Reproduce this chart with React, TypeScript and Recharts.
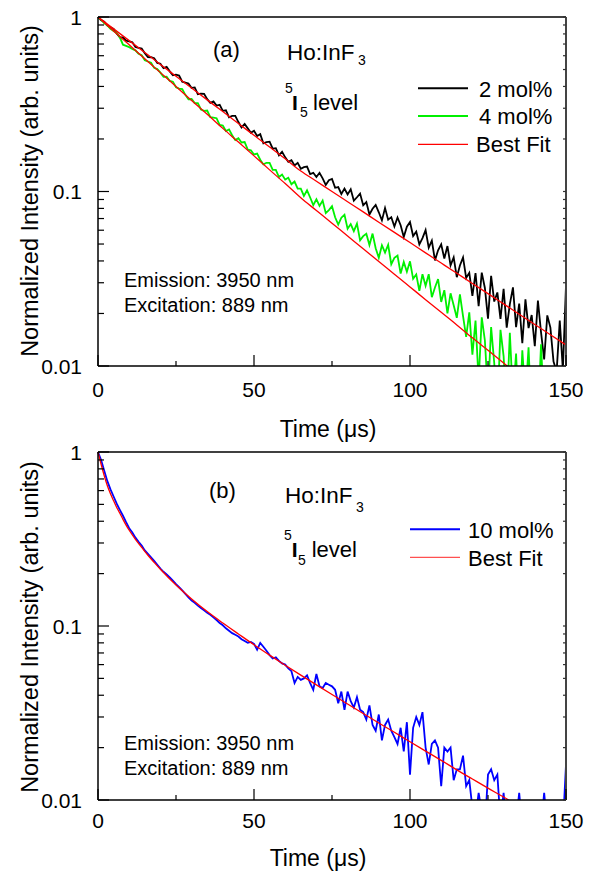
import React from 'react';
import { LineChart, Line, XAxis, YAxis } from 'recharts';

const FONT = '"Liberation Sans", Arial, Helvetica, sans-serif';

// time base of the measured traces, 1 μs per sample
const timeUs = Array.from({ length: 151 }, (_, i) => i);

// (a) 2 mol% trace
const mol2 = [
  1.0, 0.959, 0.939, 0.893, 0.874, 0.855, 0.804, 0.764, 0.763, 0.732,
  0.725, 0.716, 0.673, 0.666, 0.659, 0.62, 0.589, 0.588, 0.581, 0.546,
  0.54, 0.509, 0.518, 0.488, 0.464, 0.467, 0.462, 0.426, 0.421, 0.416,
  0.392, 0.395, 0.361, 0.364, 0.363, 0.338, 0.322, 0.328, 0.311, 0.314,
  0.29, 0.292, 0.266, 0.271, 0.271, 0.25, 0.233, 0.244, 0.23, 0.217,
  0.223, 0.208, 0.213, 0.189, 0.192, 0.193, 0.176, 0.177, 0.161, 0.169,
  0.157, 0.148, 0.151, 0.141, 0.146, 0.135, 0.138, 0.139, 0.126, 0.128,
  0.121, 0.128, 0.119, 0.109, 0.116, 0.118, 0.105, 0.106, 0.0968, 0.104,
  0.0961, 0.103, 0.0886, 0.0927, 0.0973, 0.0833, 0.0869, 0.0738, 0.0796, 0.0837,
  0.076, 0.0683, 0.0803, 0.069, 0.0713, 0.063, 0.071, 0.0641, 0.0549, 0.0629,
  0.0668, 0.0556, 0.0589, 0.0498, 0.054, 0.0601, 0.0477, 0.0523, 0.0403, 0.046,
  0.0498, 0.0413, 0.0487, 0.0377, 0.0419, 0.0323, 0.0377, 0.0419, 0.032, 0.0342,
  0.0252, 0.0341, 0.022, 0.0343, 0.028, 0.0187, 0.0329, 0.0234, 0.0264, 0.0186,
  0.0277, 0.0166, 0.0226, 0.0282, 0.0167, 0.0228, 0.0135, 0.0241, 0.0165, 0.0196,
  0.013, 0.0237, 0.0156, 0.0109, 0.0195, 0.0166, 0.0106, 0.0093, 0.0182, 0.0095,
  0.029,
];

// (a) 4 mol% trace
const mol4 = [
  1.0, 0.964, 0.92, 0.896, 0.855, 0.832, 0.81, 0.765, 0.694, 0.683,
  0.672, 0.655, 0.644, 0.615, 0.604, 0.565, 0.556, 0.547, 0.511, 0.503,
  0.48, 0.454, 0.455, 0.43, 0.426, 0.396, 0.389, 0.386, 0.358, 0.338,
  0.339, 0.321, 0.321, 0.295, 0.29, 0.291, 0.267, 0.265, 0.263, 0.241,
  0.239, 0.222, 0.227, 0.21, 0.197, 0.202, 0.191, 0.192, 0.174, 0.172,
  0.163, 0.165, 0.152, 0.143, 0.146, 0.146, 0.133, 0.133, 0.121, 0.125,
  0.117, 0.12, 0.11, 0.114, 0.104, 0.104, 0.0943, 0.1015, 0.0924, 0.0836,
  0.0902, 0.0827, 0.0887, 0.0752, 0.0782, 0.0823, 0.0712, 0.0646, 0.0708, 0.0736,
  0.0612, 0.0651, 0.0593, 0.0654, 0.0525, 0.0555, 0.0573, 0.0493, 0.0574, 0.0473,
  0.0417, 0.0492, 0.0446, 0.0495, 0.0383, 0.0417, 0.0429, 0.0339, 0.0395, 0.0347,
  0.0398, 0.0316, 0.0335, 0.027, 0.0336, 0.0288, 0.0336, 0.0248, 0.0282, 0.0315,
  0.0233, 0.0272, 0.02, 0.0261, 0.0223, 0.0189, 0.0257, 0.0193, 0.0147, 0.0203,
  0.0116, 0.0182, 0.0082, 0.019, 0.014, 0.0068, 0.0167, 0.0104, 0.0056, 0.0161,
  0.0114, 0.0055, 0.0155, 0.0066, 0.0118, 0.0044, 0.0123, 0.0066, 0.0128, 0.0047,
  0.009, 0.0051, 0.0133, 0.0054, 0.004, 0.0095, 0.0043, 0.0077, 0.0034, 0.0055,
  0.0042,
];

// (a) best fits
const fitTimeA = [0, 5, 10, 15, 20, 25, 30, 35, 40, 45, 50, 55, 60, 65, 70, 75, 80, 85, 90, 95, 100, 105, 110, 115, 120, 125, 130, 135, 140, 145, 150];
const fit2 = [1, 0.855, 0.732, 0.626, 0.535, 0.458, 0.392, 0.335, 0.287, 0.245, 0.21, 0.18, 0.154, 0.131, 0.1145, 0.1, 0.0874, 0.0764, 0.0667, 0.0583, 0.051, 0.0445, 0.0389, 0.034, 0.0297, 0.026, 0.0227, 0.0198, 0.0173, 0.0151, 0.0132];
const fit4 = [1, 0.832, 0.693, 0.577, 0.48, 0.4, 0.332, 0.277, 0.23, 0.192, 0.16, 0.133, 0.111, 0.092, 0.0778, 0.0658, 0.0556, 0.047, 0.0397, 0.0336, 0.0284, 0.024, 0.0203, 0.0172, 0.0145, 0.0123, 0.0104, 0.0088, 0.0075, 0.0063, 0.0053];

// (b) 10 mol% trace
const mol10 = [
  1.0, 0.9, 0.78, 0.68, 0.61, 0.555, 0.505, 0.465, 0.43, 0.395,
  0.365, 0.345, 0.322, 0.305, 0.29, 0.272, 0.26, 0.248, 0.237, 0.225,
  0.214, 0.205, 0.198, 0.19, 0.182, 0.174, 0.167, 0.16, 0.153, 0.146,
  0.14, 0.136, 0.131, 0.127, 0.123, 0.119, 0.116, 0.112, 0.108, 0.104,
  0.101, 0.097, 0.094, 0.091, 0.089, 0.087, 0.084, 0.082, 0.08, 0.081,
  0.079, 0.073, 0.08, 0.076, 0.072, 0.068, 0.065, 0.066, 0.063, 0.061,
  0.06, 0.057, 0.055, 0.047, 0.051, 0.049, 0.05, 0.052, 0.047, 0.043,
  0.053, 0.045, 0.044, 0.047, 0.046, 0.045, 0.043, 0.036, 0.042, 0.033,
  0.042, 0.037, 0.034, 0.039, 0.033, 0.032, 0.029, 0.035, 0.027, 0.025,
  0.031, 0.022, 0.027, 0.029, 0.025, 0.023, 0.021, 0.026, 0.019, 0.028,
  0.014, 0.026, 0.03, 0.027, 0.032, 0.02, 0.016, 0.021, 0.022, 0.02,
  0.012, 0.02, 0.019, 0.02, 0.013, 0.015, 0.015, 0.018, 0.012, 0.013,
  0.009, 0.008, 0.011, 0.0085, 0.007, 0.014, 0.015, 0.013, 0.014, 0.0075,
  0.011, 0.007, 0.009, 0.008, 0.0075, 0.011, 0.007, 0.008, 0.008, 0.007,
  0.008, 0.009, 0.007, 0.011, 0.007, 0.006, 0.008, 0.007, 0.006, 0.007,
  0.016,
];

// (b) best fit
const fitTimeB = [0, 1, 2, 3, 4, 5, 6, 7, 8, 9, 10, 12, 14, 16, 18, 20, 25, 30, 35, 40, 45, 50, 55, 60, 65, 70, 75, 80, 85, 90, 95, 100, 105, 110, 115, 120, 125, 130, 135, 140];
const fit10 = [1, 0.85, 0.73, 0.64, 0.575, 0.525, 0.48, 0.445, 0.41, 0.38, 0.355, 0.315, 0.283, 0.255, 0.232, 0.212, 0.172, 0.143, 0.121, 0.104, 0.09, 0.078, 0.068, 0.0595, 0.0522, 0.0459, 0.0404, 0.0356, 0.0314, 0.0277, 0.0245, 0.0216, 0.0191, 0.0169, 0.0149, 0.0132, 0.0117, 0.0104, 0.0092, 0.0082];

const xTicks = [0, 25, 50, 75, 100, 125, 150];
const xLabelled = [0, 50, 100, 150];
const yTicks = [
  0.01, 0.02, 0.03, 0.04, 0.05, 0.06, 0.07, 0.08, 0.09,
  0.1, 0.2, 0.3, 0.4, 0.5, 0.6, 0.7, 0.8, 0.9, 1,
];
const yMajor = [0.01, 0.1, 1];

const GREEN = '#00f000';
const BLUE = '#0000ff';
const RED = '#ff0000';

const rows = (t: number[], v: number[]) => t.map((x, i) => ({ t: x, v: v[i] }));

// tick marks point into the plot, as in the original figure; drawn as thin rects
const LeftTick = ({ x, y, payload }: any) => {
  const major = yMajor.includes(payload.value);
  const len = major ? 11 : 6;
  return (
    <g>
      <rect x={x} y={y - 0.6} width={len} height={1.2} fill="#000" />
      {major && (
        <text x={x - 16} y={y + 7.5} textAnchor="end" fontSize={21} fontFamily={FONT} fill="#000">
          {String(payload.value)}
        </text>
      )}
    </g>
  );
};

const RightTick = ({ x, y }: any) => <rect x={x - 3} y={y - 0.6} width={3} height={1.2} fill="#333" />;

const TopTick = ({ x, y }: any) => <rect x={x - 0.6} y={y} width={1.2} height={3} fill="#333" />;

const makeBottomTick = (labelDy: number) => ({ x, y, payload }: any) => {
  const v = payload.value;
  const len = v % 50 === 0 ? 11 : 5;
  return (
    <g>
      <rect x={x - 0.6} y={y - len} width={1.2} height={len} fill="#000" />
      {xLabelled.includes(v) && (
        <text x={x} y={y + labelDy} textAnchor="middle" fontSize={21} fontFamily={FONT} fill="#000">
          {v}
        </text>
      )}
    </g>
  );
};

const frame = { stroke: '#000', strokeWidth: 1.5 };
const logY = { type: 'number' as const, scale: 'log' as const, domain: [0.01, 1], allowDataOverflow: true, interval: 0 as const };
const linX = { type: 'number' as const, dataKey: 't', domain: [0, 150], interval: 0 as const };

function Panel({ top, bottomH, labelDy, children }: any) {
  return (
    <LineChart width={594} height={437} margin={{ top: top - 1, right: 27, bottom: 0, left: 0 }}>
      <XAxis xAxisId="b" {...linX} ticks={xTicks} height={bottomH} tickSize={0} tickMargin={0}
        tickLine={false} axisLine={frame} tick={makeBottomTick(labelDy)} />
      <XAxis xAxisId="top" orientation="top" {...linX} ticks={xTicks} height={1} tickSize={0} tickMargin={0}
        tickLine={false} axisLine={frame} tick={TopTick} />
      <YAxis yAxisId="l" {...logY} ticks={yTicks} width={98} tickSize={0} tickMargin={0}
        tickLine={false} axisLine={frame} tick={LeftTick} />
      <YAxis yAxisId="r" orientation="right" {...logY} ticks={yTicks} width={1} tickSize={0} tickMargin={0}
        tickLine={false} axisLine={{ stroke: '#444', strokeWidth: 2 }} tick={RightTick} />
      {children}
    </LineChart>
  );
}

const txt = { fontFamily: FONT, fill: '#000' } as const;

export default function App() {
  return (
    <div style={{ position: 'absolute', left: 0, top: 0, width: 594, height: 874, background: '#fff' }}>
      <Panel top={17} bottomH={71} labelDy={31}>
        <Line xAxisId="b" yAxisId="l" data={rows(timeUs, mol2)} dataKey="v" stroke="#000" strokeWidth={1.8}
          dot={false} isAnimationActive={false} />
        <Line xAxisId="b" yAxisId="l" data={rows(timeUs, mol4)} dataKey="v" stroke={GREEN} strokeWidth={1.8}
          dot={false} isAnimationActive={false} />
        <Line xAxisId="b" yAxisId="l" data={rows(fitTimeA, fit2)} dataKey="v" type="monotone" stroke={RED}
          strokeWidth={1.3} dot={false} isAnimationActive={false} />
        <Line xAxisId="b" yAxisId="l" data={rows(fitTimeA, fit4)} dataKey="v" type="monotone" stroke={RED}
          strokeWidth={1.3} dot={false} isAnimationActive={false} />
      </Panel>
      <Panel top={15} bottomH={74} labelDy={28}>
        <Line xAxisId="b" yAxisId="l" data={rows(timeUs, mol10)} dataKey="v" stroke={BLUE} strokeWidth={1.8}
          dot={false} isAnimationActive={false} />
        <Line xAxisId="b" yAxisId="l" data={rows(fitTimeB, fit10)} dataKey="v" type="monotone" stroke={RED}
          strokeWidth={1.3} dot={false} isAnimationActive={false} />
      </Panel>

      <svg width={594} height={874} style={{ position: 'absolute', left: 0, top: 0, pointerEvents: 'none' }}>
        {/* axis titles */}
        <text {...txt} fontSize={23.5} textAnchor="middle" transform="translate(38,191) rotate(-90)">
          Normalized Intensity (arb. units)
        </text>
        <text {...txt} fontSize={23.5} textAnchor="middle" transform="translate(38,627) rotate(-90)">
          Normalized Intensity (arb. units)
        </text>
        <text {...txt} fontSize={23} textAnchor="middle" x={328} y={437}>Time (μs)</text>
        <text {...txt} fontSize={23} textAnchor="middle" x={318} y={866}>Time (μs)</text>

        {/* panel (a) notes */}
        <text {...txt} fontSize={22} x={213} y={57}>(a)</text>
        <text {...txt} fontSize={22.5} x={287} y={59.5}>Ho:InF</text>
        <text {...txt} fontSize={14} x={358} y={65}>3</text>
        <text {...txt} fontSize={14} x={285} y={93}>5</text>
        <text {...txt} fontSize={21} fontWeight="bold" x={292} y={110}>I</text>
        <text {...txt} fontSize={14} x={300} y={117}>5</text>
        <text {...txt} fontSize={22} x={313} y={110}>level</text>
        <text {...txt} fontSize={20} x={124} y={287}>Emission: 3950 nm</text>
        <text {...txt} fontSize={20} x={124} y={311.5}>Excitation: 889 nm</text>

        <line x1={418} x2={468} y1={88.3} y2={88.3} stroke="#000" strokeWidth={2} />
        <line x1={418} x2={468} y1={116} y2={116} stroke={GREEN} strokeWidth={2} />
        <line x1={418} x2={468} y1={144.3} y2={144.3} stroke={RED} strokeWidth={1.3} />
        <text {...txt} fontSize={22} x={479} y={96.5}>2 mol%</text>
        <text {...txt} fontSize={22} x={479} y={124}>4 mol%</text>
        <text {...txt} fontSize={22} x={476} y={152.3}>Best Fit</text>

        {/* panel (b) notes */}
        <text {...txt} fontSize={22} x={209} y={497.5}>(b)</text>
        <text {...txt} fontSize={22.5} x={285} y={503.3}>Ho:InF</text>
        <text {...txt} fontSize={14} x={356} y={511.7}>3</text>
        <text {...txt} fontSize={14} x={284} y={540}>5</text>
        <text {...txt} fontSize={21} fontWeight="bold" x={291.7} y={556.7}>I</text>
        <text {...txt} fontSize={14} x={298} y={565}>5</text>
        <text {...txt} fontSize={22} x={311.7} y={556.7}>level</text>
        <text {...txt} fontSize={20} x={124} y={750}>Emission: 3950 nm</text>
        <text {...txt} fontSize={20} x={124} y={775}>Excitation: 889 nm</text>

        <line x1={410} x2={460} y1={529.3} y2={529.3} stroke={BLUE} strokeWidth={2} />
        <line x1={410} x2={460} y1={557.3} y2={557.3} stroke="#ff5050" strokeWidth={1.3} />
        <text {...txt} fontSize={22} x={468} y={538}>10 mol%</text>
        <text {...txt} fontSize={22} x={468} y={566}>Best Fit</text>
      </svg>
    </div>
  );
}
